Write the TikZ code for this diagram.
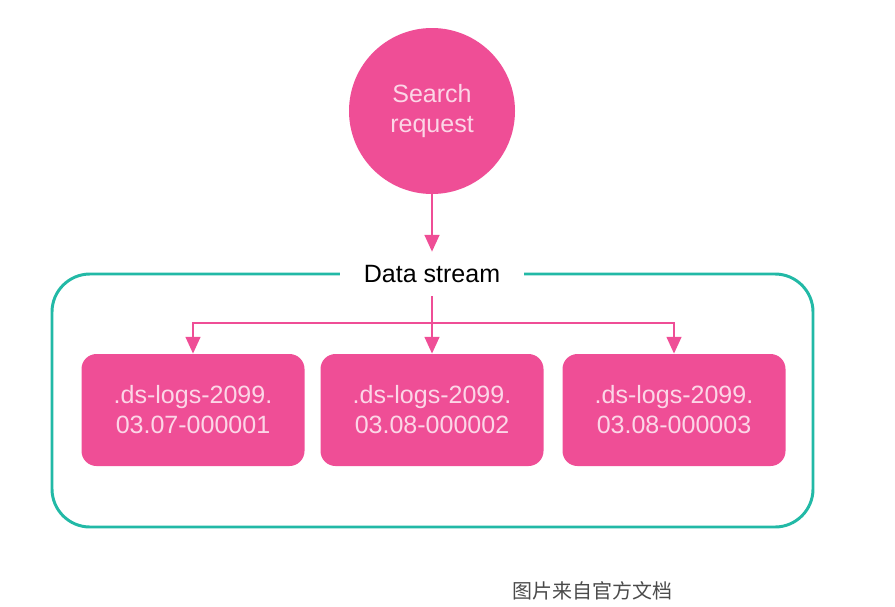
\documentclass[tikz,border=0pt]{standalone}
\usepackage{fontspec}
\setmainfont{Liberation Sans}
\newfontfamily\cjkfont{Noto Sans CJK SC}
\usetikzlibrary{arrows.meta, positioning, calc}
\definecolor{ElasticPink}{HTML}{EF4E96}
\definecolor{ElasticTeal}{HTML}{22B9A6}
\definecolor{LightPink}{HTML}{FCD6E7}
\definecolor{CaptionGray}{HTML}{4A4A4A}

\begin{document}
\begin{tikzpicture}[
    font=\fontsize{17.8}{21.3}\selectfont,
    flow/.style={draw=ElasticPink, line width=2.1pt, -{Triangle[length=4.2mm, width=3.6mm]}},
    reqnode/.style={circle, fill=ElasticPink, text=LightPink, minimum size=4.15cm,
        inner sep=0pt, align=center},
    idxbox/.style={rectangle, rounded corners=0.375cm, fill=ElasticPink, text=LightPink,
        minimum width=5.575cm, minimum height=2.8cm, align=center},
    streamframe/.style={draw=ElasticTeal, line width=2.1pt, rounded corners=0.95cm,
        minimum width=19.025cm, minimum height=6.325cm, inner sep=0pt},
    streamlabel/.style={fill=white, text=black, inner xsep=0.6cm, inner ysep=0.33cm},
]
\useasboundingbox (0,0) rectangle (22.375,-15.15);

% ---- peticion ----
\node[reqnode] (search) at (10.8,-2.775) {Search\\request};

% ---- data stream ----
\node[streamframe] (container) at (10.8125,-10.0125) {};
\node[streamlabel] (stream) at (10.8,-6.85) {Data stream};
\draw[flow] (search) -- (stream.north);

% ---- indices de respaldo ----
\foreach \i/\x/\day in {1/4.825/07, 2/10.8/08, 3/16.85/08}
    \node[idxbox] (idx\i) at (\x,-10.25) {.ds-logs-2099.\\03.\day-00000\i};

\coordinate (split) at (10.8,-8.075);
\draw[ElasticPink, line width=2.1pt] (stream.south) -- (split);
\draw[flow] (split) -- (idx2.north);
\draw[flow] (split) -| (idx1.north);
\draw[flow] (split) -| (idx3.north);

% ---- pie ----
\node[font=\cjkfont\fontsize{14.2}{17}\selectfont, text=CaptionGray] (caption)
    at (14.8125,-14.775) {图片来自官方文档};

\end{tikzpicture}
\end{document}
